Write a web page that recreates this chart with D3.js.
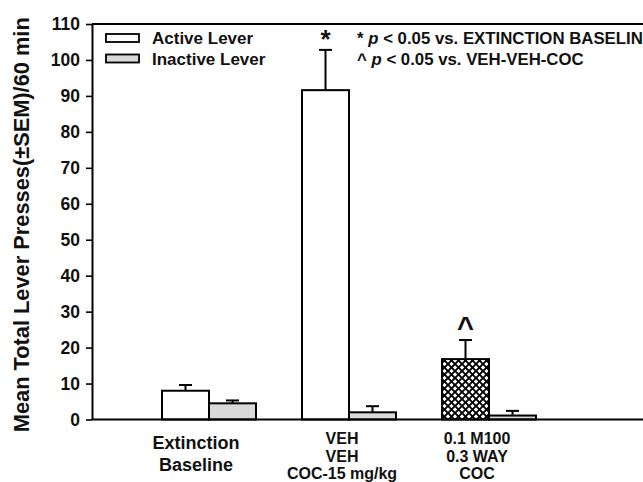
<!DOCTYPE html>
<html>
<head>
<meta charset="utf-8">
<script src="https://cdn.jsdelivr.net/npm/d3@7"></script>
<style>
  html, body { margin: 0; padding: 0; background: #fff; }
  svg { display: block; font-family: "Liberation Sans", Arial, sans-serif; font-weight: bold; }
</style>
</head>
<body>
<svg id="chart" width="643" height="482"></svg>
<script>
// Treatment groups and their x-axis label lines
const groups = ["Extinction Baseline", "VEH-VEH-COC", "M100-WAY-COC"];
const groupLabels = [
  ["Extinction", "Baseline"],
  ["VEH", "VEH", "COC-15 mg/kg"],
  ["0.1 M100", "0.3 WAY", "COC"]
];

// Mean lever presses and SEM per group
const activeMean   = [8.0, 91.6, 16.8];
const activeSEM    = [1.6, 11.2, 5.3];
const inactiveMean = [4.5, 2.0, 1.1];
const inactiveSEM  = [0.8, 1.7, 1.3];

// Significance markers drawn over the active-lever bars
const activeMarks = ["", "*", "^"];

const yTicks = [0, 10, 20, 30, 40, 50, 60, 70, 80, 90, 100, 110];
const seriesNames = ["Active Lever", "Inactive Lever"];
const notes = ["vs. EXTINCTION BASELINE", "vs. VEH-VEH-COC"];
const noteMarks = ["*", "^"];

const svg = d3.select("#chart");

const plotLeft = 92, plotTop = 24, plotBottom = 419.5;
const y = d3.scaleLinear().domain([0, 110]).range([plotBottom, plotTop]);
const x = d3.scaleBand().domain(groups).range([139, 559]).padding(0);
const half = 47; // width of one bar
const inner = d3.scaleBand().domain(seriesNames).range([-half, half]).padding(0);

// Cross-hatch pattern for the drug-treatment bar
const defs = svg.append("defs");
const pat = defs.append("pattern")
  .attr("id", "hatch").attr("patternUnits", "userSpaceOnUse")
  .attr("width", 7).attr("height", 7);
pat.append("rect").attr("width", 7).attr("height", 7).attr("fill", "#fff");
pat.append("path").attr("d", "M-1,1 l2,-2 M0,7 l7,-7 M6,8 l2,-2")
  .attr("stroke", "#000").attr("stroke-width", 1.9);
pat.append("path").attr("d", "M-1,6 l2,2 M0,0 l7,7 M6,-1 l2,2")
  .attr("stroke", "#000").attr("stroke-width", 1.9);

// Frame: top border
svg.append("line").attr("x1", plotLeft).attr("x2", 643).attr("y1", plotTop).attr("y2", plotTop)
  .attr("stroke", "#000").attr("stroke-width", 2);

// Y axis
const yAxis = d3.axisLeft(y).tickValues(yTicks).tickSize(6).tickPadding(6).tickSizeOuter(0);
const yG = svg.append("g").attr("transform", `translate(${plotLeft},0)`).call(yAxis);
yG.select(".domain").attr("stroke", "#000").attr("stroke-width", 2);
yG.selectAll(".tick line").attr("stroke", "#000").attr("stroke-width", 1.6);
yG.selectAll(".tick text")
  .attr("font-family", "Liberation Sans, Arial, sans-serif")
  .attr("font-weight", "bold").attr("font-size", 17.5).attr("fill", "#111");

svg.append("text")
  .attr("transform", `translate(29,${(plotTop + plotBottom) / 2 + 3}) rotate(-90)`)
  .attr("text-anchor", "middle").attr("font-size", 21.8).attr("fill", "#111")
  .text("Mean Total Lever Presses(±SEM)/60 min");

// Bars
const bars = [];
groups.forEach((g, i) => {
  bars.push({ g, i, s: seriesNames[0], mean: activeMean[i], sem: activeSEM[i] });
  bars.push({ g, i, s: seriesNames[1], mean: inactiveMean[i], sem: inactiveSEM[i] });
});
const cx = g => x(g) + x.bandwidth() / 2;
const fillOf = d => d.s === seriesNames[1] ? "#d9d9d9" : (d.i === 2 ? "url(#hatch)" : "#fff");

// Error bars (upper only)
const eb = svg.append("g").selectAll("g").data(bars).join("g");
eb.append("line")
  .attr("x1", d => cx(d.g) + inner(d.s) + inner.bandwidth() / 2)
  .attr("x2", d => cx(d.g) + inner(d.s) + inner.bandwidth() / 2)
  .attr("y1", d => y(d.mean)).attr("y2", d => y(d.mean + d.sem))
  .attr("stroke", "#000").attr("stroke-width", 2);
eb.append("line")
  .attr("x1", d => cx(d.g) + inner(d.s) + inner.bandwidth() / 2 - 6.5)
  .attr("x2", d => cx(d.g) + inner(d.s) + inner.bandwidth() / 2 + 6.5)
  .attr("y1", d => y(d.mean + d.sem)).attr("y2", d => y(d.mean + d.sem))
  .attr("stroke", "#000").attr("stroke-width", 2);

svg.append("g").selectAll("rect").data(bars).join("rect")
  .attr("x", d => cx(d.g) + inner(d.s))
  .attr("y", d => y(d.mean))
  .attr("width", inner.bandwidth())
  .attr("height", d => y(0) - y(d.mean))
  .attr("fill", fillOf)
  .attr("stroke", "#000").attr("stroke-width", 2);

// Baseline
svg.append("line").attr("x1", plotLeft).attr("x2", 643).attr("y1", plotBottom).attr("y2", plotBottom)
  .attr("stroke", "#000").attr("stroke-width", 2);

// Significance markers
svg.append("g").selectAll("text").data(bars.filter(d => d.s === seriesNames[0] && activeMarks[d.i]))
  .join("text")
  .attr("x", d => cx(d.g) + inner(d.s) + inner.bandwidth() / 2)
  .attr("y", d => y(d.mean + d.sem) - (activeMarks[d.i] === "*" ? 2 : 3))
  .attr("text-anchor", "middle")
  .attr("font-size", d => activeMarks[d.i] === "*" ? 26 : 29)
  .attr("fill", "#111")
  .text(d => activeMarks[d.i]);

// Group labels under the axis
const labelShift = [-13, -7, -12];
groups.forEach((g, i) => {
  const lines = groupLabels[i];
  const big = lines.length === 2;
  const t = svg.append("text")
    .attr("text-anchor", "middle").attr("fill", "#111")
    .attr("font-size", big ? 18 : 16);
  lines.forEach((ln, k) => {
    t.append("tspan").attr("x", cx(g) + labelShift[i])
      .attr("y", big ? 449 + k * 22 : 444 + k * 17.5)
      .text(ln);
  });
});

// Legend
const leg = svg.append("g");
seriesNames.forEach((s, k) => {
  leg.append("rect").attr("x", 106).attr("y", 34 + k * 20.5).attr("width", 33).attr("height", 8)
    .attr("fill", k === 0 ? "#fff" : "#d9d9d9").attr("stroke", "#000").attr("stroke-width", 1.8);
  leg.append("text").attr("x", 152).attr("y", 44 + k * 20.5).attr("font-size", 17)
    .attr("fill", "#111").text(s);
});

// Significance key
notes.forEach((n, k) => {
  const t = svg.append("text").attr("x", 357).attr("y", 44 + k * 20.5)
    .attr("font-size", 16.8).attr("fill", "#111");
  t.append("tspan").text(noteMarks[k] + " ");
  t.append("tspan").attr("font-style", "italic").text("p");
  t.append("tspan").text(" < 0.05 " + n);
});
</script>
</body>
</html>
